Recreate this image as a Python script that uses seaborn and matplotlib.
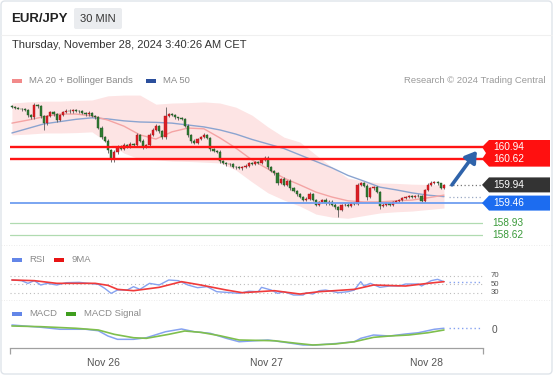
import numpy as np
import pandas as pd
import matplotlib
matplotlib.use("Agg")
import matplotlib.pyplot as plt
from matplotlib.patches import Rectangle, Polygon, FancyBboxPatch
import seaborn as sns


############################## DADOS ##############################

# EUR/JPY 30 min - fechamentos
primeira_abertura = 162.02
closes = [162.00, 161.97, 161.95, 161.93, 161.92, 161.78, 161.72, 162.05, 162.02, 161.75,
          161.57, 161.75, 161.86, 161.80, 161.65, 161.78, 161.86, 161.90, 161.88, 161.92,
          161.90, 161.88, 161.84, 161.80, 161.85, 161.76, 161.72, 161.45, 161.20, 161.10,
          160.85, 160.62, 160.80, 160.95, 160.90, 161.00, 160.95, 161.02, 160.98, 161.25,
          161.10, 160.94, 160.98, 161.25, 161.40, 161.50, 161.35, 161.20, 161.75, 161.80,
          161.78, 161.72, 161.70, 161.68, 161.50, 161.25, 161.10, 161.05, 161.15, 161.20,
          161.25, 161.18, 160.88, 160.84, 160.82, 160.58, 160.52, 160.48, 160.50, 160.42,
          160.40, 160.38, 160.42, 160.45, 160.52, 160.50, 160.55, 160.52, 160.60, 160.65,
          160.40, 160.30, 160.25, 160.00, 160.10, 159.95, 160.05, 159.85, 159.78, 159.70,
          159.62, 159.55, 159.58, 159.70, 159.55, 159.42, 159.48, 159.55, 159.45, 159.50,
          159.42, 159.35, 159.28, 159.40, 159.42, 159.38, 159.45, 159.43, 159.95, 159.98,
          159.92, 159.62, 159.85, 159.88, 159.75, 159.38, 159.42, 159.45, 159.40, 159.48,
          159.52, 159.55, 159.60, 159.62, 159.65, 159.62, 159.66, 159.64, 159.52, 159.80,
          159.95, 160.00, 160.02, 159.98, 159.85, 159.94]

# tamanho das sombras (acima do corpo / abaixo do corpo)
wick_up = [0.03, 0.02, 0.03, 0.02, 0.03, 0.03, 0.04, 0.04, 0.03, 0.03,
           0.04, 0.03, 0.04, 0.03, 0.03, 0.03, 0.02, 0.03, 0.03, 0.02,
           0.03, 0.02, 0.03, 0.03, 0.03, 0.02, 0.03, 0.03, 0.04, 0.03,
           0.05, 0.04, 0.05, 0.04, 0.03, 0.04, 0.03, 0.04, 0.03, 0.05,
           0.03, 0.04, 0.03, 0.05, 0.04, 0.04, 0.03, 0.03, 0.25, 0.04,
           0.03, 0.03, 0.02, 0.03, 0.03, 0.04, 0.03, 0.04, 0.03, 0.04,
           0.05, 0.03, 0.03, 0.03, 0.02, 0.03, 0.03, 0.02, 0.03, 0.03,
           0.02, 0.03, 0.03, 0.03, 0.02, 0.03, 0.03, 0.02, 0.03, 0.05,
           0.04, 0.03, 0.03, 0.04, 0.03, 0.05, 0.03, 0.04, 0.03, 0.03,
           0.03, 0.03, 0.04, 0.04, 0.03, 0.03, 0.04, 0.03, 0.05, 0.03,
           0.03, 0.03, 0.04, 0.03, 0.03, 0.03, 0.04, 0.03, 0.04, 0.03,
           0.03, 0.04, 0.03, 0.04, 0.03, 0.03, 0.03, 0.02, 0.03, 0.03,
           0.03, 0.02, 0.03, 0.02, 0.03, 0.03, 0.02, 0.03, 0.03, 0.03,
           0.04, 0.03, 0.03, 0.03, 0.02, 0.03]
wick_dn = [0.03, 0.03, 0.02, 0.03, 0.03, 0.04, 0.04, 0.03, 0.04, 0.05,
           0.19, 0.04, 0.03, 0.04, 0.05, 0.03, 0.03, 0.02, 0.03, 0.03,
           0.03, 0.03, 0.04, 0.03, 0.03, 0.04, 0.03, 0.03, 0.05, 0.04,
           0.06, 0.07, 0.07, 0.04, 0.04, 0.03, 0.04, 0.03, 0.04, 0.03,
           0.04, 0.05, 0.03, 0.03, 0.03, 0.03, 0.04, 0.05, 0.04, 0.03,
           0.03, 0.03, 0.04, 0.03, 0.03, 0.04, 0.05, 0.03, 0.04, 0.03,
           0.03, 0.03, 0.04, 0.03, 0.03, 0.05, 0.04, 0.03, 0.03, 0.04,
           0.03, 0.03, 0.04, 0.03, 0.03, 0.03, 0.03, 0.03, 0.03, 0.03,
           0.04, 0.03, 0.04, 0.05, 0.03, 0.04, 0.03, 0.04, 0.03, 0.04,
           0.03, 0.04, 0.03, 0.04, 0.03, 0.05, 0.04, 0.03, 0.04, 0.03,
           0.03, 0.04, 0.19, 0.03, 0.03, 0.03, 0.03, 0.03, 0.03, 0.03,
           0.04, 0.08, 0.03, 0.04, 0.03, 0.08, 0.03, 0.04, 0.03, 0.03,
           0.03, 0.03, 0.03, 0.03, 0.03, 0.03, 0.03, 0.03, 0.04, 0.03,
           0.03, 0.03, 0.03, 0.03, 0.03, 0.02]

# medias e bandas (a cada 5 candles)
ma_idx = list(range(0, 136, 5))
ma20 = [161.57, 161.65, 161.74, 161.81, 161.81, 161.76, 161.65, 161.49, 161.26, 161.15,
        161.34, 161.44, 161.42, 161.18, 160.91, 160.60, 160.36, 160.12, 159.94, 159.75,
        159.62, 159.52, 159.49, 159.49, 159.52, 159.54, 159.60, 159.67]
ma50 = [161.31, 161.43, 161.55, 161.61, 161.67, 161.71, 161.68, 161.63, 161.60, 161.59,
        161.57, 161.52, 161.47, 161.39, 161.28, 161.14, 161.02, 160.90, 160.73, 160.56,
        160.39, 160.19, 160.04, 159.88, 159.81, 159.73, 159.67, 159.63]
bb_up = [162.10, 162.13, 162.15, 162.15, 162.17, 162.18, 162.29, 162.31, 162.31, 162.07,
         162.10, 162.11, 162.13, 162.10, 161.99, 161.78, 161.47, 161.20, 161.07, 160.73,
         160.41, 160.12, 160.04, 159.99, 159.98, 159.96, 159.95, 159.94]
bb_dn = [161.26, 161.28, 161.31, 161.31, 161.32, 161.34, 161.05, 160.78, 160.62, 160.60,
         160.57, 160.56, 160.54, 160.52, 160.33, 160.02, 159.73, 159.54, 159.38, 159.17,
         159.09, 159.06, 159.13, 159.20, 159.23, 159.25, 159.29, 159.33]

# niveis (resistencias / pivot / suportes)
resistencias = [160.94, 160.62]
pivot = 159.46
suportes = [158.93, 158.62]
alvo_seta = 160.84

# RSI e media de 9
rsi_idx = [0, 3, 5, 7, 9, 11, 14, 17, 21, 24, 27, 29, 31, 33, 36, 38, 40, 43, 46, 49,
           52, 55, 58, 61, 64, 67, 71, 74, 77, 78, 81, 83, 85, 88, 91, 92, 94, 96, 98, 102,
           105, 107, 109, 110, 112, 115, 118, 121, 123, 127, 128, 131, 133, 135]
rsi_val = [60.4, 58.8, 52.4, 58.8, 48.4, 52.4, 48.4, 54.0, 54.8, 52.4, 50.0, 40.4, 28.4, 36.4,
           36.4, 44.4, 38.0, 52.4, 48.4, 60.4, 58.8, 48.4, 42.0, 44.4, 32.4, 30.8, 28.4, 33.5,
           32.4, 42.8, 36.4, 28.4, 32.4, 24.4, 24.4, 30.0, 26.8, 34.8, 36.4, 30.0, 32.4, 36.4,
           56.4, 46.0, 52.4, 42.8, 46.0, 46.0, 50.8, 50.8, 46.0, 58.8, 62.0, 56.4]
rsi9_idx = [0, 7, 14, 26, 30, 33, 38, 46, 53, 59, 67, 72, 82, 90, 96, 107, 113, 123, 130, 135]
rsi9_val = [60.4, 58.8, 52.4, 52.4, 47.6, 38.0, 34.8, 42.8, 56.4, 48.4, 36.4, 30.0, 34.8, 26.8,
            32.4, 38.0, 48.4, 46.0, 52.4, 56.4]
rsi_niveis = [30, 50, 70]

# MACD e sinal
macd_idx = [0, 9, 15, 23, 27, 30, 33, 38, 42, 48, 53, 57, 62, 67, 71, 80, 84, 91, 95, 102,
            107, 109, 113, 118, 123, 127, 132, 135]
macd_val = [0.075, 0.041, 0.011, 0.011, -0.011, -0.090, -0.140, -0.140, -0.116, -0.026,
            0.015, -0.026, -0.050, -0.125, -0.176, -0.150, -0.176, -0.225, -0.225, -0.200,
            -0.176, -0.125, -0.075, -0.090, -0.060, -0.041, 0.011, 0.026]
sig_idx = [0, 9, 20, 27, 32, 38, 42, 49, 54, 59, 65, 71, 82, 89, 94, 101, 107, 113, 118,
           124, 130, 135]
sig_val = [0.060, 0.050, 0.026, 0.000, -0.065, -0.116, -0.125, -0.065, -0.015, -0.035,
           -0.086, -0.150, -0.161, -0.200, -0.225, -0.210, -0.176, -0.110, -0.090, -0.075,
           -0.041, 0.000]

# eixo das datas
dias_pos = [28.7, 79.4, 129.7]
dias_lab = ['Nov 26', 'Nov 27', 'Nov 28']


############################## PREPARO ##############################

velas = pd.DataFrame({'close': closes, 'up': wick_up, 'dn': wick_dn})
velas['open'] = velas.close.shift(1).fillna(primeira_abertura)
velas['top'] = velas[['open', 'close']].max(axis=1)
velas['bot'] = velas[['open', 'close']].min(axis=1)
velas['high'] = velas.top + velas.up
velas['low'] = velas.bot - velas.dn
velas['alta'] = velas.close >= velas.open
n = len(velas)
xs = np.arange(n)


############################## FIGURA ##############################

sns.set_theme(style='white')
plt.rcParams['font.family'] = ['Liberation Sans', 'DejaVu Sans']

W, H = 553, 375
fig = plt.figure(figsize=(W / 100, H / 100), dpi=100)
fig.patch.set_facecolor('white')


def caixa(l, t, r, b):
    return [l / W, 1 - b / H, (r - l) / W, (b - t) / H]


XLIM = (-0.6, 147.2)
ax_p = fig.add_axes(caixa(10, 93, 483, 245))
ax_r = fig.add_axes(caixa(10, 262, 483, 300))
ax_m = fig.add_axes(caixa(10, 318, 483, 348))
for a in (ax_p, ax_r, ax_m):
    a.set_xlim(*XLIM)
    a.set_facecolor('none')

# ---- painel de preco
ax_p.set_ylim(158.354, 162.365)
ax_p.fill_between(ma_idx, bb_dn, bb_up, color='#fde4e4', lw=0, zorder=1)
sns.lineplot(x=ma_idx, y=ma50, ax=ax_p, color='#8ba4d0', lw=1, zorder=2)
sns.lineplot(x=ma_idx, y=ma20, ax=ax_p, color='#f4a4a4', lw=1, zorder=2)

ax_p.vlines(xs, velas.low, velas.high, color='#5a5a5a', lw=0.6, zorder=3)
cores = np.where(velas.alta, '#dc1f26', '#2f7d32')
bordas = np.where(velas.alta, '#a8151a', '#1d4f20')
ax_p.bar(xs, (velas.top - velas.bot).clip(lower=0.012), bottom=velas.bot, width=0.66,
         color=cores, edgecolor=bordas, lw=0.3, zorder=4)

for nivel in resistencias:
    ax_p.axhline(nivel, color='#ff1414', lw=1.7, zorder=5)
ax_p.axhline(pivot, color='#6f9ef0', lw=1.3, zorder=5)
for nivel in suportes:
    ax_p.axhline(nivel, color='#b0dbb0', lw=0.9, zorder=5)

ax_p.hlines(closes[-1], n + 0.5, XLIM[1], color='#777777', lw=0.9, ls=(0, (1, 2)), zorder=5)
ax_p.hlines(ma50[-1], n + 0.5, XLIM[1], color='#9aa9c4', lw=0.9, ls=(0, (1, 2)), zorder=5)

ax_p.annotate('', xy=(n + 9.3, alvo_seta), xytext=(n + 1.5, closes[-1]),
              arrowprops=dict(arrowstyle='-|>,head_length=0.55,head_width=0.35',
                              color='#2f63aa', lw=2.6, shrinkA=0, shrinkB=0), zorder=6)
ax_p.axis('off')

# ---- painel RSI
ax_r.set_ylim(12.5, 103.5)
for lv in rsi_niveis:
    ax_r.axhline(lv, color='#bdbdbd', lw=0.8, ls=(0, (1, 2.5)))
sns.lineplot(x=rsi_idx, y=rsi_val, ax=ax_r, color='#86a2f0', lw=1)
sns.lineplot(x=rsi9_idx, y=rsi9_val, ax=ax_r, color='#f03a3a', lw=1.2)
ax_r.hlines(rsi_val[-1], n + 0.5, XLIM[1] - 1, color='#86a2f0', lw=1, ls=(0, (1, 2)))
ax_r.axis('off')

# ---- painel MACD
ax_m.set_ylim(-0.27, 0.18)
sns.lineplot(x=macd_idx, y=macd_val, ax=ax_m, color='#86a2f0', lw=1.1)
sns.lineplot(x=sig_idx, y=sig_val, ax=ax_m, color='#7fbf4d', lw=1.2)
ax_m.hlines(macd_val[-1], n + 0.5, XLIM[1] - 1, color='#86a2f0', lw=1, ls=(0, (1, 2)))
for lado in ('top', 'left', 'right'):
    ax_m.spines[lado].set_visible(False)
ax_m.spines['bottom'].set_color('#a0a0a0')
ax_m.spines['bottom'].set_linewidth(0.9)
ax_m.set_yticks([])
ax_m.set_xticks(dias_pos, dias_lab)
ax_m.set_xticks(list(XLIM), minor=True)
ax_m.tick_params(axis='x', which='major', length=0, pad=7, labelsize=7.5, labelcolor='#555555')
ax_m.tick_params(axis='x', which='minor', length=4, width=0.9, color='#a0a0a0', bottom=True)
ax_m.set_xlabel('')
ax_m.set_ylabel('')


############################## TEXTOS E ETIQUETAS ##############################

ov = fig.add_axes([0, 0, 1, 1], zorder=10)
ov.set_xlim(0, W)
ov.set_ylim(H, 0)
ov.axis('off')


def ypx(eixo, v):
    return H - eixo.transData.transform((0, v))[1]


# moldura e cabecalho
ov.add_patch(FancyBboxPatch((1, 1), W - 2, H - 2, boxstyle='round,pad=0,rounding_size=4',
                            fc='none', ec='#dfe4ea', lw=1))
ov.plot([1, W - 1], [34.5, 34.5], color='#f0f0f0', lw=0.8)
ov.plot([1, W - 1], [245, 245], color='#e6e6e6', lw=0.6, ls=(0, (1, 2)))
ov.plot([1, W - 1], [300, 300], color='#e6e6e6', lw=0.6, ls=(0, (1, 2)))
ov.text(11, 19.5, 'EUR/JPY', fontsize=9.5, fontweight='bold', color='#222222', va='center')
ov.add_patch(FancyBboxPatch((74, 8), 48, 21, boxstyle='round,pad=0,rounding_size=2',
                            fc='#eaecef', ec='none'))
ov.text(98, 19, '30 MIN', fontsize=8, color='#333333', ha='center', va='center')
ov.text(12, 45.5, 'Thursday, November 28, 2024 3:40:26 AM CET', fontsize=8, color='#333333',
        va='center')


# legendas
def legenda(x, y, cor, texto, dx=17):
    ov.add_patch(Rectangle((x, y - 2), 10, 4, fc=cor, ec='none'))
    ov.text(x + dx, y, texto, fontsize=6.8, color='#8a8a8a', va='center')


legenda(12, 80.5, '#f28a8a', 'MA 20 + Bollinger Bands')
legenda(146, 80.5, '#2b4f9c', 'MA 50')
ov.text(545, 80.5, 'Research © 2024 Trading Central', fontsize=6.8, color='#9a9a9a',
        ha='right', va='center')
legenda(12, 260, '#6386e8', 'RSI')
legenda(54, 260, '#e81414', '9MA', dx=18)
legenda(12, 314, '#6386e8', 'MACD')
legenda(66, 314, '#3f9e1e', 'MACD Signal', dx=18)

# etiquetas dos niveis
y1 = ypx(ax_p, resistencias[0])
y2 = ypx(ax_p, resistencias[1])
ov.add_patch(Polygon([(482, y1), (489, y1 - 7), (550, y1 - 7), (550, y2 + 7.5), (489, y2 + 7.5),
                      (482, y2), (486, (y1 + y2) / 2)], closed=True, fc='#ff1010', ec='none'))
ov.text(493, y1, f'{resistencias[0]:.2f}', fontsize=7.3, color='white', va='center')
ov.text(493, y2, f'{resistencias[1]:.2f}', fontsize=7.3, color='white', va='center')


def etiqueta(v, cor):
    yc = ypx(ax_p, v)
    ov.add_patch(Polygon([(482, yc), (489, yc - 7.5), (550, yc - 7.5), (550, yc + 7.5),
                          (489, yc + 7.5)], closed=True, fc=cor, ec='none'))
    ov.text(493, yc, f'{v:.2f}', fontsize=7.3, color='white', va='center')


etiqueta(closes[-1], '#333333')
etiqueta(pivot, '#1c6cf0')
for nivel in suportes:
    ov.text(492, ypx(ax_p, nivel), f'{nivel:.2f}', fontsize=7.3, color='#3a9a3a', va='center')

# rotulos do RSI bem juntos (como no original), fonte menor pra nao encavalar
for lv in rsi_niveis:
    ov.text(491, ypx(ax_r, lv), str(lv), fontsize=5.6, color='#555555', va='center')
ov.text(492, ypx(ax_m, 0), '0', fontsize=7.3, color='#555555', va='center')

fig.savefig('out.png', dpi=100)
